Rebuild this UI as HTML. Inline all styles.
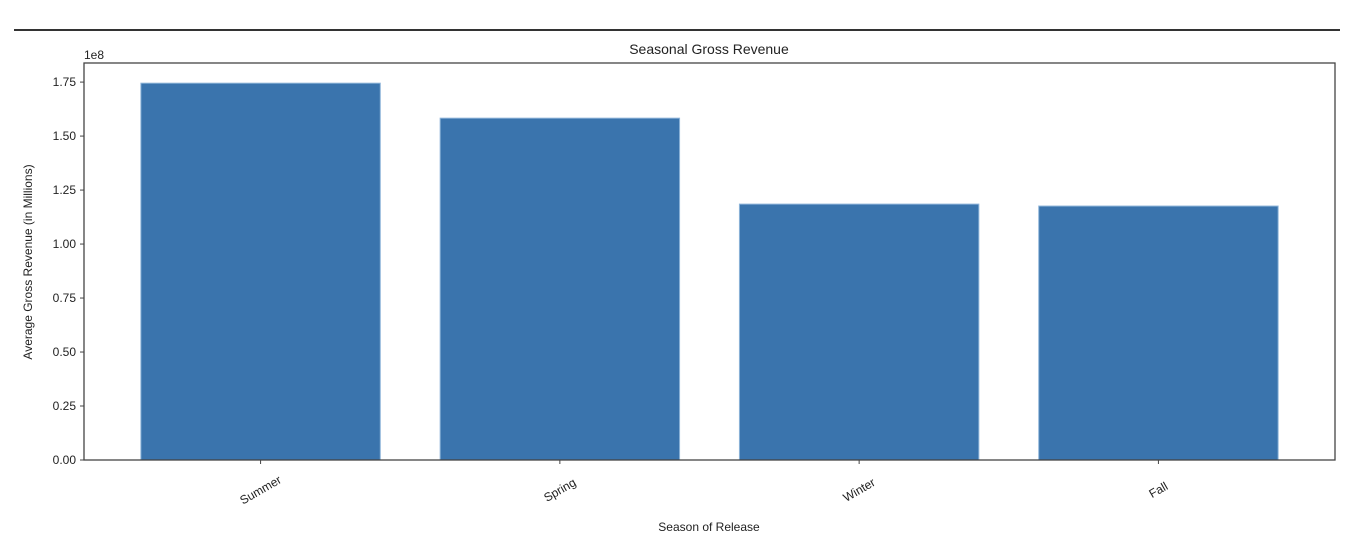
<!DOCTYPE html>
<html><head><meta charset="utf-8"><style>
body{margin:0;background:#fff;width:1363px;height:539px;overflow:hidden}
svg text{font-family:"Liberation Sans","DejaVu Sans",sans-serif;fill:#222}
</style></head><body>
<svg id="c" width="1363" height="539" xmlns="http://www.w3.org/2000/svg">
<line x1="14" y1="30" x2="1340" y2="30" stroke="#333" stroke-width="2"/>
<text x="709" y="54" font-size="14" text-anchor="middle">Seasonal Gross Revenue</text>
<text x="84" y="59" font-size="12">1e8</text>
<text x="709" y="531" font-size="12" text-anchor="middle">Season of Release</text>
<text transform="translate(32,262) rotate(-90)" font-size="12" text-anchor="middle">Average Gross Revenue (in Millions)</text>
<g id="bars"></g><g id="ticks"></g>
<rect x="84" y="63" width="1251" height="397" fill="none" stroke="#444" stroke-width="1.3"/>
</svg>
<script>
const categories=["Summer","Spring","Winter","Fall"];
const values=[1.745,1.583,1.185,1.176];
const yTicks=[0,0.25,0.5,0.75,1.0,1.25,1.5,1.75];
const yTickLabels=["0.00","0.25","0.50","0.75","1.00","1.25","1.50","1.75"];
const L=84,R=1335,T=63,B=460;
const xmin=-0.59,xmax=3.59;
function xs(v){return L+(v-xmin)/(xmax-xmin)*(R-L);}
function ys(v){return B-v/1.8384*(B-T);}
const NS="http://www.w3.org/2000/svg";
const bars=document.getElementById('bars'),ticks=document.getElementById('ticks');
function mk(tag,attrs,parent){const e=document.createElementNS(NS,tag);for(const k in attrs)e.setAttribute(k,attrs[k]);parent.appendChild(e);return e;}
categories.forEach((c,i)=>{
  const x0=xs(i-0.4),x1=xs(i+0.4),y=ys(values[i]);
  const r=mk('rect',{x:x0,y:y,width:x1-x0,height:B-y,fill:'#3a74ad',stroke:'#8fb5d9','stroke-width':1},bars);
  
  
  const cx=xs(i);
  const t=mk('line',{x1:cx,x2:cx,y1:B,y2:B+4,stroke:'#444'},ticks);
  
  
  const ly=B+34;
  const lb=mk('text',{x:cx,y:ly,'font-size':12,'text-anchor':'middle',transform:`rotate(-30 ${cx} ${ly-4})`},ticks);
  lb.textContent=c;
  
  
});
yTicks.forEach((v,i)=>{
  const y=ys(v);
  const t=mk('line',{x1:L-4,x2:L,y1:y,y2:y,stroke:'#444'},ticks);
  
  
  const lb=mk('text',{x:L-8,y:y+4,'font-size':12,'text-anchor':'end'},ticks);
  lb.textContent=yTickLabels[i];
  
  
});
</script>
</body></html>
